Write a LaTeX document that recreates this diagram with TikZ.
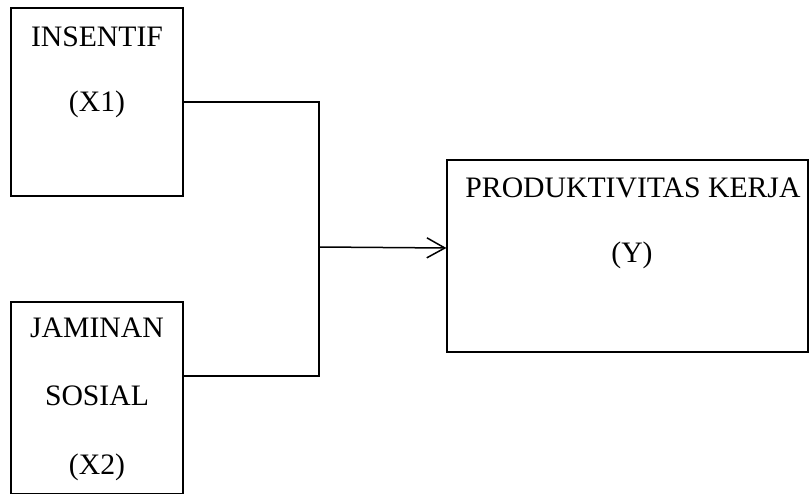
\documentclass[tikz,border=0pt]{standalone}
\usepackage{fontspec}
\setmainfont{Liberation Serif}
\usetikzlibrary{arrows.meta}
\begin{document}
\begin{tikzpicture}[x=1pt,y=-1pt,
  box/.style={draw,line width=1.2pt,inner sep=0pt},
  lbl/.style={font=\fontsize{29.7}{34}\selectfont,anchor=base,inner sep=0pt},
  conn/.style={line width=1.5pt}]
\useasboundingbox (0,0) rectangle (809,494);
\node[box,minimum width=172pt,minimum height=188pt] (x1) at (97,102) {};
\node[box,minimum width=172pt,minimum height=192pt] (x2) at (97,398) {};
\node[box,minimum width=361pt,minimum height=192pt] (y) at (627.5,256) {};
\node[lbl] (t1) at (97,47) {INSENTIF};
\node[lbl] (t2) at (97,112) {(X1)};
\node[lbl] (t3) at (97,338) {JAMINAN};
\node[lbl] (t4) at (97,406) {SOSIAL};
\node[lbl] (t5) at (97,474) {(X2)};
\node[lbl] (t6) at (633,198) {PRODUKTIVITAS KERJA};
\node[lbl] (t7) at (632,263) {(Y)};
\coordinate (top) at (319,102);
\coordinate (bot) at (319,376);
\coordinate (mid) at (319,247);
\draw[conn] (x1.east) -- (top) -- (bot) -- ([yshift=22pt]x2.east);
\draw[conn,-{Straight Barb[length=18pt,width=20pt]}] (mid) -- ([yshift=8pt]y.west);
\end{tikzpicture}
\end{document}
